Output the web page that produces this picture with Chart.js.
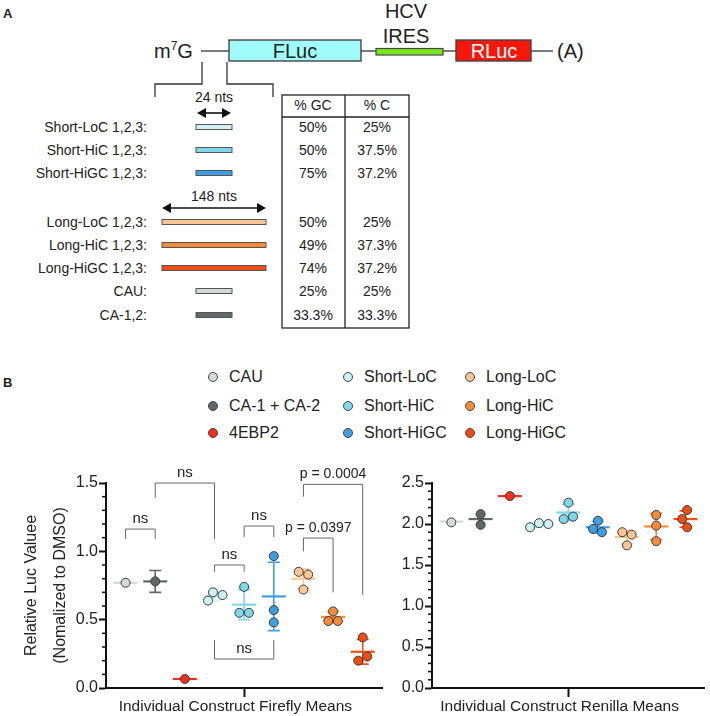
<!DOCTYPE html>
<html>
<head>
<meta charset="utf-8">
<script src="https://cdn.jsdelivr.net/npm/chart.js@4.4.0/dist/chart.umd.min.js"></script>
<style>
  body { margin: 0; background: #fff; font-family: "Liberation Sans", Arial, sans-serif; color: #222; }
  #fig { position: relative; width: 710px; height: 716px; overflow: hidden; }
  .pane { position: absolute; }
  .leg { position: absolute; font-size: 16px; line-height: 18px; white-space: nowrap; }
  .dot { position: absolute; width: 8px; height: 8px; border-radius: 50%; border: 1px solid #444; }
</style>
</head>
<body>
<div id="fig">
  <svg id="diagram" width="710" height="400" style="position:absolute;left:0;top:0"></svg>
  <div id="legend"></div>
  <div class="pane" style="left:0;top:440px;width:390px;height:276px"><canvas id="firefly"></canvas></div>
  <div class="pane" style="left:380px;top:440px;width:330px;height:276px"><canvas id="renilla"></canvas></div>
</div>
<script>
// ---- panel A: constructs table ----
const constructs = ['Short-LoC 1,2,3:', 'Short-HiC 1,2,3:', 'Short-HiGC 1,2,3:', 'Long-LoC 1,2,3:',
                    'Long-HiC 1,2,3:', 'Long-HiGC 1,2,3:', 'CAU:', 'CA-1,2:'];
const constructGC = ['50%', '50%', '75%', '50%', '49%', '74%', '25%', '33.3%'];
const constructC = ['25%', '37.5%', '37.2%', '25%', '37.3%', '37.2%', '25%', '33.3%'];
const constructLong = [false, false, false, true, true, true, false, false];
const constructColors = ['#d2f3f6', '#7fd7eb', '#3b9fe2', '#fcc594', '#f78b39', '#ee4e13', '#d3dbda', '#5c686a'];

// ---- panel B ----
const groups = ['CAU', 'CA-1 + CA-2', '4EBP2', 'Short-LoC', 'Short-HiC', 'Short-HiGC', 'Long-LoC', 'Long-HiC', 'Long-HiGC'];
const groupColors = ['#d3dbda', '#5c686a', '#f2301b', '#cdf1f5', '#7fd7eb', '#3b9fe2', '#fcc594', '#f78b39', '#ee4e13'];

const fireflyPoints = [[0.77], [0.78], [0.066], [0.70, 0.64, 0.68], [0.55, 0.74, 0.55], [0.965, 0.57, 0.48],
                       [0.83, 0.85, 0.72], [0.56, 0.49, 0.49], [0.37, 0.23, 0.20]];
const fireflyMeans = [0.77, 0.78, 0.066, 0.67, 0.61, 0.67, 0.80, 0.52, 0.265];
const fireflySD = [0, 0.08, 0, 0.03, 0.11, 0.25, 0.07, 0.04, 0.09];

const renillaPoints = [[2.02], [2.12, 1.99], [2.34], [2.01, 1.96, 2.00], [2.26, 2.09, 2.06], [2.04, 1.94, 1.90],
                       [1.87, 1.90, 1.74], [2.11, 1.98, 1.79], [2.17, 1.96, 2.06]];
const renillaMeans = [2.03, 2.06, 2.34, 1.99, 2.14, 1.96, 1.84, 1.97, 2.06];
const renillaSD = [0, 0, 0, 0.03, 0.10, 0.07, 0.08, 0.16, 0.10];

// significance brackets on the firefly panel (group index, value)
const compLabels = ['ns', 'ns', 'ns', 'ns', 'ns', 'p = 0.0397', 'p = 0.0004'];
const compFrom = [0, 1, 3, 4, 3, 6, 6];
const compTo = [1, 3, 4, 5, 5, 7, 8];
const compBarY = [1.163, 1.5, 0.90, 1.185, 0.212, 1.097, 1.49];
const compFromEnd = [1.09, 1.39, 0.85, 1.105, 0.35, 1.0, 1.40];
const compToEnd = [1.09, 1.09, 0.85, 1.105, 0.35, 0.70, 0.68];

const FONT = '"Liberation Sans", Arial, sans-serif';
const INK = '#222';

// ---------- panel A drawing ----------
(function drawDiagram() {
    const svg = document.getElementById('diagram');
    let s = '';
    const txt = (x, y, t, size, anchor, extra) =>
        `<text x="${x}" y="${y}" font-size="${size}" text-anchor="${anchor || 'start'}" fill="${INK}" font-family='${FONT}' ${extra || ''}>${t}</text>`;
    const ln = (x1, y1, x2, y2, w, c) =>
        `<line x1="${x1}" y1="${y1}" x2="${x2}" y2="${y2}" stroke="${c || '#333'}" stroke-width="${w || 1.3}"/>`;
    const arrow = (x1, x2, y) =>
        ln(x1 + 6, y, x2 - 6, y, 1.6, '#111') +
        `<polygon points="${x1},${y} ${x1 + 9},${y - 5} ${x1 + 9},${y + 5}" fill="#111"/>` +
        `<polygon points="${x2},${y} ${x2 - 9},${y - 5} ${x2 - 9},${y + 5}" fill="#111"/>`;

    s += txt(3, 18, 'A', 13, 'start', 'font-weight="bold"');
    s += txt(406, 18, 'HCV', 20, 'middle');
    s += txt(406, 43, 'IRES', 20, 'middle');
    s += `<text x="154" y="58" font-size="20" fill="${INK}" font-family='${FONT}'>m<tspan font-size="12" dy="-8">7</tspan><tspan dy="8">G</tspan></text>`;
    s += ln(201, 51, 229, 51) + ln(361, 51, 376, 51) + ln(443, 51, 456, 51) + ln(531, 51, 553, 51);
    s += `<rect x="229" y="40" width="132" height="21" fill="#a0fcf9" stroke="#444" stroke-width="1.4"/>`;
    s += txt(295, 58, 'FLuc', 20, 'middle');
    s += `<rect x="376" y="48.5" width="67" height="6.5" fill="#7ae61e" stroke="#444" stroke-width="1.2"/>`;
    s += `<rect x="456" y="40" width="75" height="21" fill="#f5170a" stroke="#444" stroke-width="1.4"/>`;
    s += `<text x="494" y="58" font-size="20" text-anchor="middle" fill="#fff" font-family='${FONT}'>RLuc</text>`;
    s += txt(557, 58, '(A)', 20);

    // 5'UTR bracket
    s += `<polyline points="202,62 202,84 155,84 155,97" fill="none" stroke="#333" stroke-width="1.3"/>`;
    s += `<polyline points="227,62 227,84 273,84 273,97" fill="none" stroke="#333" stroke-width="1.3"/>`;
    s += txt(214, 102, '24 nts', 14, 'middle');
    s += arrow(197, 231, 113);
    s += txt(214, 201, '148 nts', 14, 'middle');
    s += arrow(162, 266, 208);

    // rows
    const rowY = [127, 150, 173, 222, 245, 268, 291, 315];
    constructs.forEach((c, i) => {
        const y = rowY[i];
        s += txt(147, y + 5, c, 14, 'end');
        const x0 = constructLong[i] ? 162 : 196, w = constructLong[i] ? 104 : 36;
        s += `<rect x="${x0}" y="${y - 2.5}" width="${w}" height="5" fill="${constructColors[i]}" stroke="#555" stroke-width="1"/>`;
        s += txt(313, y + 5, constructGC[i], 14, 'middle');
        s += txt(377, y + 5, constructC[i], 14, 'middle');
    });
    // table frame
    s += `<rect x="282" y="95" width="127" height="233" fill="none" stroke="#222" stroke-width="1.3"/>`;
    s += ln(345, 95, 345, 328, 1.3, '#222') + ln(282, 117, 409, 117, 1.3, '#222');
    s += txt(313, 110, '% GC', 14, 'middle');
    s += txt(377, 110, '% C', 14, 'middle');

    s += txt(3, 387, 'B', 13, 'start', 'font-weight="bold"');
    svg.innerHTML = s;
})();

// ---------- legend ----------
(function drawLegend() {
    const box = document.getElementById('legend');
    const colX = [213, 348, 470], rowY = [377, 406, 433];
    groups.forEach((g, i) => {
        const cx = colX[Math.floor(i / 3)], cy = rowY[i % 3];
        const d = document.createElement('div');
        d.className = 'dot';
        d.style.left = (cx - 5) + 'px';
        d.style.top = (cy - 5) + 'px';
        d.style.background = groupColors[i];
        box.appendChild(d);
        const t = document.createElement('div');
        t.className = 'leg';
        t.style.left = (cx + 16) + 'px';
        t.style.top = (cy - 9) + 'px';
        t.textContent = g;
        box.appendChild(t);
    });
})();

// ---------- chart helpers ----------
Chart.defaults.font.family = FONT;
Chart.defaults.color = INK;

const X_MIN = -0.66, X_MAX = 8.65;
const PLOT_W = 276, PLOT_H = 205, DIAM = 9.5;

// beeswarm-style horizontal spread (pixel offsets) so circles don't pile up
function swarm(vals, yPx) {
    const offs = [];
    vals.forEach((v) => {
        let off = 0;
        for (let k = 0; k < 80; k++) {
            const cand = (k % 2 ? -1 : 1) * Math.ceil(k / 2) * 0.5;
            if (offs.every((o, j) => Math.hypot(cand - o, (v - vals[j]) * yPx) >= DIAM)) { off = cand; break; }
        }
        offs.push(off);
    });
    const parent = vals.map((_, i) => i);
    const find = i => parent[i] === i ? i : (parent[i] = find(parent[i]));
    for (let i = 0; i < vals.length; i++)
        for (let j = i + 1; j < vals.length; j++)
            if (Math.abs(vals[i] - vals[j]) * yPx < DIAM) parent[find(i)] = find(j);
    const clusters = {};
    vals.forEach((_, i) => { const r = find(i); (clusters[r] = clusters[r] || []).push(i); });
    Object.values(clusters).forEach(idx => {
        if (idx.length < 2) return;
        const m = idx.reduce((a, i) => a + offs[i], 0) / idx.length;
        idx.forEach(i => { offs[i] -= m; });
    });
    return offs;
}

function buildPoints(pointsByGroup, yMax) {
    const xPx = PLOT_W / (X_MAX - X_MIN), yPx = PLOT_H / yMax;
    const data = [], colors = [];
    pointsByGroup.forEach((vals, i) => {
        const offs = swarm(vals, yPx);
        vals.forEach((v, j) => {
            data.push({ x: i + offs[j] / xPx, y: v });
            colors.push(groupColors[i]);
        });
    });
    return { data, colors };
}

const meanBars = {
    id: 'meanBars',
    beforeDatasetsDraw(chart, args, opts) {
        const { x, y } = chart.scales, ctx = chart.ctx;
        ctx.save();
        opts.means.forEach((m, i) => {
            const cx = x.getPixelForValue(i), cy = y.getPixelForValue(m);
            ctx.strokeStyle = groupColors[i];
            const sd = opts.sds[i];
            if (sd > 0) {
                const t = y.getPixelForValue(m + sd), b = y.getPixelForValue(m - sd);
                ctx.lineWidth = 1.6;
                ctx.beginPath();
                ctx.moveTo(cx, t); ctx.lineTo(cx, b);
                ctx.moveTo(cx - 6, t); ctx.lineTo(cx + 6, t);
                ctx.moveTo(cx - 6, b); ctx.lineTo(cx + 6, b);
                ctx.stroke();
            }
            ctx.lineWidth = 2.2;
            ctx.beginPath();
            ctx.moveTo(cx - 12, cy); ctx.lineTo(cx + 12, cy);
            ctx.stroke();
        });
        ctx.restore();
    }
};

const minorTicks = {
    id: 'minorTicks',
    afterDraw(chart) {
        const y = chart.scales.y, ctx = chart.ctx, left = chart.chartArea.left;
        ctx.save();
        ctx.strokeStyle = '#111';
        ctx.lineWidth = 1.5;
        const n = Math.round(y.max * 10);
        for (let i = 0; i <= n; i++) {
            if (i % 5 === 0) continue;
            const py = y.getPixelForValue(i / 10);
            ctx.beginPath();
            ctx.moveTo(left - 4, py); ctx.lineTo(left, py);
            ctx.stroke();
        }
        ctx.restore();
    }
};

const brackets = {
    id: 'brackets',
    afterDatasetsDraw(chart) {
        const { x, y } = chart.scales, ctx = chart.ctx;
        ctx.save();
        ctx.strokeStyle = '#666';
        ctx.lineWidth = 1;
        ctx.fillStyle = INK;
        ctx.textAlign = 'center';
        ctx.textBaseline = 'middle';
        compLabels.forEach((lab, i) => {
            const x1 = x.getPixelForValue(compFrom[i]), x2 = x.getPixelForValue(compTo[i]);
            const yb = y.getPixelForValue(compBarY[i]);
            ctx.beginPath();
            ctx.moveTo(x1, y.getPixelForValue(compFromEnd[i]));
            ctx.lineTo(x1, yb);
            ctx.lineTo(x2, yb);
            ctx.lineTo(x2, y.getPixelForValue(compToEnd[i]));
            ctx.stroke();
            ctx.font = (lab === 'ns' ? '15px ' : '14px ') + FONT;
            ctx.fillText(lab, (x1 + x2) / 2, yb - 10);
        });
        ctx.restore();
    }
};

function makeChart(id, pts, means, sds, yMax, xTitle, yTitle, axisWidth, padRight, extra) {
    const p = buildPoints(pts, yMax);
    return new Chart(document.getElementById(id), {
        type: 'scatter',
        data: {
            datasets: [{
                data: p.data,
                pointRadius: 4.5,
                pointBackgroundColor: p.colors,
                pointBorderColor: '#3a3a3a',
                pointBorderWidth: 1
            }]
        },
        options: {
            responsive: true,
            maintainAspectRatio: false,
            animation: false,
            events: [],
            layout: { padding: { top: 43, right: padRight, left: 0, bottom: 0 } },
            plugins: {
                legend: { display: false },
                tooltip: { enabled: false },
                meanBars: { means: means, sds: sds }
            },
            scales: {
                x: {
                    type: 'linear',
                    min: X_MIN,
                    max: X_MAX,
                    afterBuildTicks: s => { s.ticks = [{ value: 4 }]; },
                    ticks: { display: false },
                    grid: { drawOnChartArea: false, tickLength: 9, tickColor: '#111', tickWidth: 2 },
                    border: { color: '#111', width: 2 },
                    title: { display: true, text: xTitle, font: { size: 15.5 }, color: INK, padding: 0 },
                    afterFit: s => { s.height = 28; }
                },
                y: {
                    min: 0,
                    max: yMax,
                    ticks: { stepSize: 0.5, padding: 1, font: { size: 16 }, color: INK, callback: v => v.toFixed(1) },
                    grid: { drawOnChartArea: false, tickLength: 7, tickColor: '#111', tickWidth: 2 },
                    border: { color: '#111', width: 2 },
                    title: yTitle ? { display: true, text: yTitle, font: { size: 16, lineHeight: 1.8 }, color: INK, padding: { top: 17, bottom: 0 } } : { display: false },
                    afterFit: s => { s.width = axisWidth; }
                }
            }
        },
        plugins: [meanBars, minorTicks].concat(extra || [])
    });
}

makeChart('firefly', fireflyPoints, fireflyMeans, fireflySD, 1.5,
    'Individual Construct Firefly Means    ', ['Relative Luc Valuee', '(Nomalized to DMSO)'], 106, 8, [brackets]);
makeChart('renilla', renillaPoints, renillaMeans, renillaSD, 2.5,
    'Individual Construct Renilla Means    ', null, 52, 2);
</script>
</body>
</html>
